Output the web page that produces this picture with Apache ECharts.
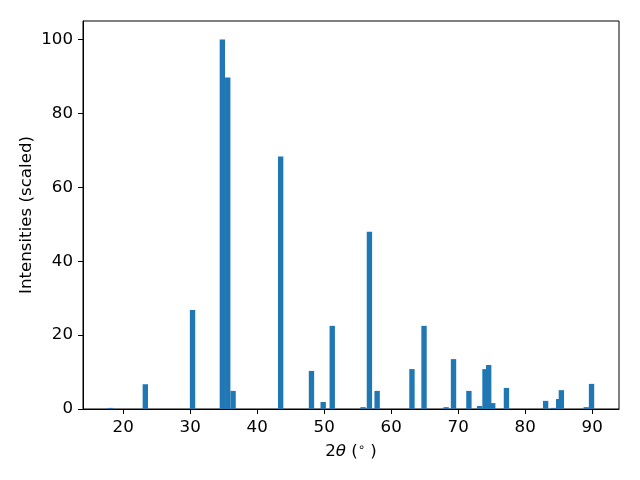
<!DOCTYPE html>
<html><head><meta charset="utf-8">
<script src="https://cdn.jsdelivr.net/npm/echarts@6/dist/echarts.min.js"></script>
<style>html,body{margin:0;padding:0;background:#fff}#c{width:640px;height:480px}</style>
</head><body><div id="c"></div>
<script>
const positions = [18.1, 23.3, 30.35, 34.8, 35.6, 36.4, 43.5, 48.1, 49.85, 51.2, 55.8, 56.75, 57.9, 63.1, 64.9, 68.2, 69.3, 71.6, 73.2, 74.0, 74.55, 75.15, 77.2, 83.05, 84.25, 85.0, 85.4, 89.1, 89.9];
const intensities = [0.3, 6.7, 26.8, 100, 89.7, 4.9, 68.3, 10.3, 1.9, 22.5, 0.5, 48.0, 4.9, 10.8, 22.5, 0.5, 13.5, 4.9, 0.8, 10.8, 11.9, 1.6, 5.7, 2.2, 0.3, 2.7, 5.1, 0.5, 6.8];
const xTicks = [20, 30, 40, 50, 60, 70, 80, 90];
const yTicks = [0, 20, 40, 60, 80, 100];
const barWidth = 0.8;

const data = positions.map((p, i) => [p, intensities[i]]);
const font = 'DejaVu Sans';
const fs = 16.67;
const chart = echarts.init(document.getElementById('c'), null, {renderer: 'canvas'});
chart.setOption({
  animation: false,
  backgroundColor: '#fff',
  textStyle: {fontFamily: font, color: '#000'},
  grid: {left: 83, right: 21, top: 21, bottom: 71, show: true, borderColor: '#000', borderWidth: 1, backgroundColor: 'transparent'},
  xAxis: {
    type: 'value', min: 14, max: 94,
    splitLine: {show: false},
    axisLine: {show: true, onZero: false, lineStyle: {color: '#000', width: 1}},
    axisTick: {show: true, length: 5, customValues: xTicks, lineStyle: {color: '#000'}},
    axisLabel: {customValues: xTicks, margin: 10, fontSize: fs, color: '#000', fontFamily: font},
    name: '{a|2}{i|θ}{a| (}{s|∘}{a| )}',
    nameLocation: 'middle', nameGap: 33,
    nameTextStyle: {
      fontSize: fs, color: '#000', fontFamily: font, verticalAlign: 'top',
      rich: {
        a: {fontSize: fs, fontFamily: font, color: '#000'},
        i: {fontSize: fs, fontFamily: font, fontStyle: 'italic', color: '#000'},
        s: {fontSize: 11.5, fontFamily: font, color: '#000', verticalAlign: 'top', padding: [0, 0, 8, 0]}
      }
    }
  },
  yAxis: {
    type: 'value', min: 0, max: 105,
    splitLine: {show: false},
    axisLine: {show: true, lineStyle: {color: '#000', width: 1}},
    axisTick: {show: true, length: 5, customValues: yTicks, lineStyle: {color: '#000'}},
    axisLabel: {customValues: yTicks, margin: 10, fontSize: fs, color: '#000', fontFamily: font, padding: [3, 0, 0, 0]},
    name: 'Intensities (scaled)', nameLocation: 'middle', nameGap: 48,
    nameMoveOverlap: false,
    nameTextStyle: {fontSize: fs, color: '#000', fontFamily: font}
  },
  series: [{
    type: 'custom',
    clip: true,
    data: data,
    encode: {x: 0, y: 1},
    renderItem: function (params, api) {
      const x = api.value(0), y = api.value(1);
      const p1 = api.coord([x - barWidth / 2, y]);
      const p2 = api.coord([x + barWidth / 2, 0]);
      return {
        type: 'rect',
        shape: {x: p1[0], y: p1[1], width: p2[0] - p1[0], height: p2[1] - p1[1]},
        style: {fill: '#1f77b4'}
      };
    }
  }]
});
</script></body></html>
